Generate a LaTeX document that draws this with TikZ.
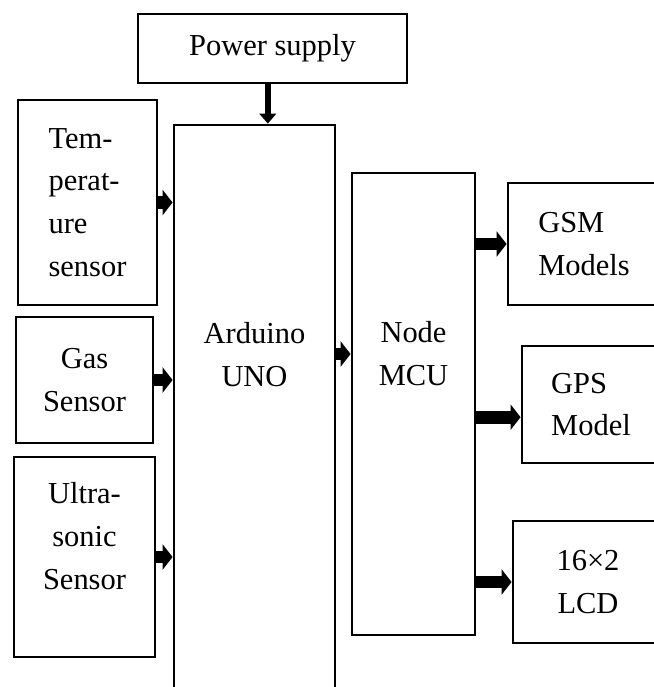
\documentclass[tikz,border=0pt]{standalone}
\usepackage{fontspec}
\setmainfont{Liberation Serif}
\usetikzlibrary{arrows.meta,positioning}

\begin{document}
\begin{tikzpicture}[
  x=0.03cm, y=-0.03cm,
  font=\fontsize{26}{36.6}\selectfont,
  blk/.style={draw, line width=2.4pt, align=center, inner sep=0pt},
  arr/.style={-{Triangle[length=0.3cm, width=0.75cm]}, line width=0.38cm},
  pwr/.style={-{Triangle[length=0.3cm, width=0.5cm]}, line width=0.2cm},
]
  \useasboundingbox (0,0) rectangle (654,687);
  \clip (0,0) rectangle (654,687);

  %% Supply and sensors
  \node[blk, minimum width=8.07cm, minimum height=2.07cm] (power) at (272.5,48.5) {Power supply};
  \node[blk, align=left, minimum width=4.17cm, minimum height=6.15cm] (temp) at (87.5,202.5)
    {Tem-\\perat-\\ure\\sensor};
  \node[blk, minimum width=4.11cm, minimum height=3.78cm] (gas) at (84.5,380) {Gas\\Sensor};
  \node[blk, minimum width=4.23cm, minimum height=6cm] (ultra) at (84.5,557) {};
  \node[align=center] (ultratxt) at ([yshift=0.63cm]ultra.center) {Ultra-\\sonic\\Sensor};

  %% Controllers
  \node[blk, minimum width=4.83cm, minimum height=17.1cm] (ard) at (254.5,410) {};
  \node[align=center] (ardtxt) at ([yshift=1.65cm]ard.center) {Arduino\\UNO};
  \node[blk, minimum width=3.69cm, minimum height=13.86cm] (nmcu) at (413.5,404) {};
  \node[align=center] (nmcutxt) at ([yshift=1.5cm]nmcu.center) {Node\\MCU};

  %% Outputs
  \node[blk, align=left, minimum width=4.56cm, minimum height=3.66cm] (gsm) at (584,244) {GSM\\Models};
  \node[blk, align=left, minimum width=4.14cm, minimum height=3.51cm] (gps) at (591,404.5) {GPS\\Model};
  \node[blk, minimum width=4.5cm, minimum height=3.66cm] (lcd) at (588,582) {16×2\\LCD};

  %% Arrows
  \coordinate (pwrout) at ([xshift=-0.14cm]power.south);
  \draw[pwr] (pwrout) -- (pwrout |- ard.north);
  \draw[arr] (temp.east) -- (temp.east -| ard.west);
  \draw[arr] (gas.east) -- (gas.east -| ard.west);
  \draw[arr] (ultra.east) -- (ultra.east -| ard.west);
  \draw[arr] (nmcutxt -| ard.east) -- (nmcutxt -| nmcu.west);

  \coordinate (gpsin) at ([yshift=-0.38cm]gps.west);
  \draw[arr] (gsm.west -| nmcu.east) -- (gsm.west);
  \draw[arr] (gpsin -| nmcu.east) -- (gpsin);
  \draw[arr] (lcd.west -| nmcu.east) -- (lcd.west);
\end{tikzpicture}
\end{document}
